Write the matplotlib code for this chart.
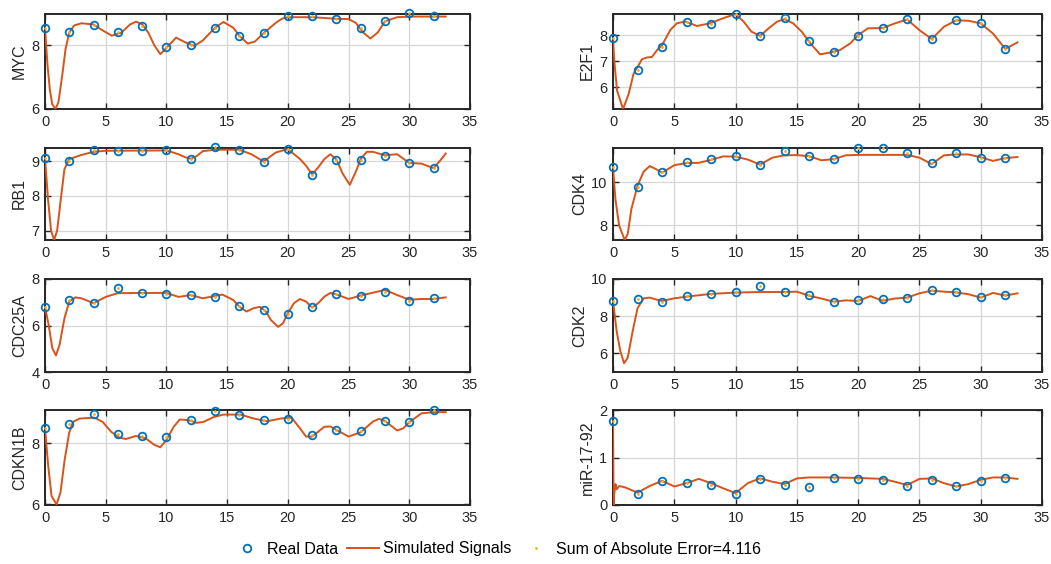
import numpy as np
import matplotlib
matplotlib.use("Agg")
import matplotlib.pyplot as plt
from matplotlib.lines import Line2D

plt.rcParams['font.family'] = ['Liberation Sans', 'DejaVu Sans']

# sampling times of the measurements
t_data = [0, 2, 4, 6, 8, 10, 12, 14, 16, 18, 20, 22, 24, 26, 28, 30, 32]

# real data
myc_data = [8.55, 8.40, 8.63, 8.40, 8.59, 7.94, 8.00, 8.53, 8.28, 8.38, 8.93, 8.91, 8.82, 8.55, 8.77, 9.01, 8.93]
e2f1_data = [7.88, 6.65, 7.55, 8.49, 8.43, 8.81, 7.96, 8.65, 7.76, 7.34, 7.97, 8.27, 8.61, 7.85, 8.59, 8.46, 7.47]
rb1_data = [9.09, 9.01, 9.31, 9.28, 9.28, 9.33, 9.06, 9.40, 9.31, 8.98, 9.35, 8.59, 9.02, 9.04, 9.15, 8.96, 8.81]
cdk4_data = [10.70, 9.80, 10.47, 10.94, 11.08, 11.24, 10.83, 11.44, 11.23, 11.11, 11.61, 11.59, 11.38, 10.88, 11.36, 11.15, 11.15]
cdc25a_data = [6.79, 7.11, 6.96, 7.61, 7.40, 7.37, 7.31, 7.23, 6.83, 6.66, 6.51, 6.79, 7.34, 7.29, 7.46, 7.07, 7.20]
cdk2_data = [8.83, 8.93, 8.79, 9.06, 9.22, 9.31, 9.61, 9.32, 9.13, 8.79, 8.88, 8.90, 8.99, 9.41, 9.29, 9.04, 9.15]
cdkn1b_data = [8.49, 8.63, 8.96, 8.31, 8.24, 8.19, 8.75, 9.07, 8.93, 8.77, 8.80, 8.27, 8.42, 8.40, 8.74, 8.70, 9.08]
mir_data = [1.77, 0.24, 0.50, 0.46, 0.43, 0.24, 0.55, 0.43, 0.38, 0.57, 0.55, 0.53, 0.41, 0.53, 0.40, 0.51, 0.57]

# simulated signals
myc_t = [0, 0.2, 0.4, 0.6, 0.85, 1.1, 1.4, 1.7, 2, 2.4, 3, 4, 4.6, 5.5, 6.3, 7, 7.5, 8, 8.5, 9, 9.5, 10,
         10.8, 11.5, 12.3, 13, 13.5, 14, 14.7, 15.5, 16, 16.7, 17.3, 18, 19, 19.5, 20, 22, 24, 25, 25.6,
         26.2, 26.8, 27.4, 28, 29, 30, 33]
myc_sim = [8.55, 7.4, 6.6, 6.15, 6.0, 6.2, 7.0, 7.9, 8.4, 8.62, 8.69, 8.65, 8.5, 8.3, 8.4, 8.65, 8.74,
           8.66, 8.4, 8.0, 7.72, 7.92, 8.24, 8.1, 7.98, 8.15, 8.35, 8.55, 8.73, 8.55, 8.3, 8.05, 8.12,
           8.38, 8.7, 8.83, 8.88, 8.88, 8.83, 8.82, 8.7, 8.4, 8.21, 8.4, 8.75, 8.88, 8.9, 8.9]

e2f1_t = [0, 0.1, 0.33, 0.82, 1.28, 1.68, 2, 2.36, 2.77, 3.18, 3.59, 4, 4.67, 5.2, 5.9, 6.85, 7.9, 9, 10,
          10.65, 11.3, 12, 12.7, 13.4, 14, 14.7, 15.4, 16.1, 16.9, 17.7, 18.5, 19.35, 20, 20.8, 22, 23,
          24, 25, 26, 27, 28, 29, 30, 31, 32, 33]
e2f1_sim = [7.88, 7.03, 5.87, 5.16, 5.74, 6.52, 6.77, 7.07, 7.14, 7.16, 7.42, 7.61, 8.19, 8.45, 8.52,
            8.35, 8.45, 8.65, 8.81, 8.52, 8.13, 7.97, 8.26, 8.52, 8.61, 8.45, 8.13, 7.68, 7.26, 7.33,
            7.42, 7.68, 8.0, 8.26, 8.27, 8.45, 8.6, 8.19, 7.85, 8.32, 8.57, 8.55, 8.45, 8.06, 7.47, 7.72]

rb1_t = [0, 0.25, 0.5, 0.75, 1.0, 1.3, 1.6, 2, 3, 4, 5, 10, 11, 11.5, 12, 12.5, 13, 14, 16, 17, 18, 19,
         20, 21, 21.5, 22, 22.5, 23, 23.5, 24, 24.5, 25.1, 25.6, 26, 26.5, 27, 28, 29, 30, 31, 32, 32.5, 33]
rb1_sim = [9.09, 7.9, 7.0, 6.73, 7.0, 7.9, 8.77, 9.06, 9.18, 9.27, 9.3, 9.31, 9.2, 9.12, 9.07, 9.15, 9.29,
           9.33, 9.33, 9.2, 8.99, 9.25, 9.35, 9.06, 8.87, 8.62, 8.82, 9.06, 9.2, 9.05, 8.65, 8.32, 8.7,
           9.06, 9.27, 9.27, 9.17, 9.2, 8.95, 8.93, 8.8, 9.0, 9.22]

cdk4_t = [0, 0.2, 0.5, 0.95, 1.2, 1.5, 2, 2.5, 3, 3.5, 4, 5, 6, 7, 8, 9, 10, 11, 12, 13, 14, 15, 16, 17,
          18, 19, 20, 24, 25, 26, 27, 28, 29, 30, 31, 32, 33]
cdk4_sim = [10.7, 9.2, 8.0, 7.32, 7.6, 8.76, 9.85, 10.5, 10.76, 10.62, 10.45, 10.8, 10.9, 10.91, 11.05,
            11.21, 11.2, 11.06, 10.83, 11.15, 11.26, 11.27, 11.22, 11.03, 11.08, 11.26, 11.28, 11.28,
            11.15, 10.85, 11.26, 11.3, 11.3, 11.17, 11.0, 11.13, 11.18]

cdc25a_t = [0, 0.3, 0.6, 0.9, 1.2, 1.6, 2, 2.5, 3, 4, 5, 6, 8, 10, 11, 12, 13, 14.6, 15.5, 16, 16.6, 17.2,
            17.7, 18.2, 18.6, 19.2, 19.6, 20, 20.5, 21, 21.5, 22, 22.5, 23, 23.5, 24, 25, 26, 27, 28, 29,
            30, 31, 32, 33]
cdc25a_sim = [6.79, 6.03, 5.03, 4.71, 5.17, 6.31, 7.03, 7.21, 7.17, 6.96, 7.23, 7.39, 7.4, 7.4, 7.23,
              7.31, 7.17, 7.33, 7.1, 6.81, 6.6, 6.75, 6.8, 6.6, 6.24, 5.94, 6.1, 6.53, 6.96, 7.14, 7.03,
              6.77, 6.96, 7.24, 7.4, 7.34, 7.14, 7.29, 7.41, 7.53, 7.31, 7.11, 7.14, 7.14, 7.21]

cdk2_t = [0, 0.3, 0.6, 0.9, 1.2, 1.6, 2, 2.5, 3, 3.5, 4, 5, 6, 8, 10, 12, 14, 15, 16, 17, 18, 19, 20, 21,
          22, 23, 24, 25, 26, 27, 28, 29, 30, 31, 32, 33]
cdk2_sim = [8.83, 7.18, 6.12, 5.47, 5.77, 7.18, 8.43, 8.96, 9.0, 8.9, 8.82, 8.96, 9.05, 9.2, 9.27, 9.3,
            9.3, 9.32, 9.1, 8.95, 8.78, 8.85, 8.82, 9.08, 8.83, 8.95, 9.0, 9.23, 9.37, 9.32, 9.28, 9.18,
            9.0, 9.25, 9.11, 9.23]

cdkn1b_t = [0, 0.27, 0.54, 0.95, 1.27, 1.62, 1.98, 2.3, 2.85, 4.07, 4.75, 5.44, 6.1, 6.65, 7.5, 8.3, 9.0,
            9.5, 10, 10.6, 11.1, 11.8, 12.5, 13.05, 13.9, 14.7, 16.1, 17.2, 18.3, 19.4, 20.3, 21, 21.5,
            22, 22.5, 23, 23.5, 24, 25, 26, 27, 27.5, 28, 29, 29.5, 30, 31, 32, 33]
cdkn1b_sim = [8.49, 7.24, 6.27, 6.0, 6.38, 7.46, 8.32, 8.7, 8.81, 8.84, 8.7, 8.38, 8.19, 8.14, 8.24, 8.16,
              7.95, 7.87, 8.11, 8.54, 8.78, 8.76, 8.67, 8.7, 8.86, 8.94, 8.94, 8.81, 8.72, 8.81, 8.84,
              8.49, 8.22, 8.22, 8.38, 8.54, 8.55, 8.44, 8.22, 8.36, 8.71, 8.8, 8.73, 8.42, 8.49, 8.69,
              8.98, 9.02, 9.02]

mir_t = [0, 0.05, 0.1, 0.2, 0.3, 0.5, 1, 2, 3, 4, 5, 6, 7, 8, 9, 10, 11, 12, 13, 14, 15, 16, 18, 20, 22,
         23, 24, 25, 26, 27, 28, 29, 30, 31, 32, 33]
mir_sim = [1.77, 0.0, 0.23, 0.44, 0.33, 0.4, 0.37, 0.26, 0.4, 0.51, 0.39, 0.46, 0.55, 0.46, 0.35, 0.25,
           0.46, 0.56, 0.49, 0.44, 0.56, 0.58, 0.58, 0.57, 0.55, 0.49, 0.42, 0.55, 0.56, 0.46, 0.39,
           0.44, 0.53, 0.58, 0.58, 0.55]

sae_text = "Sum of Absolute Error=4.116"

# name, data, sim t, sim values, ylim, yticks  (order: row by row, left then right)
panels = [
    ("MYC", myc_data, myc_t, myc_sim, (6, 8.98), [6, 8]),
    ("E2F1", e2f1_data, e2f1_t, e2f1_sim, (5.16, 8.81), [6, 7, 8]),
    ("RB1", rb1_data, rb1_t, rb1_sim, (6.73, 9.38), [7, 8, 9]),
    ("CDK4", cdk4_data, cdk4_t, cdk4_sim, (7.32, 11.6), [8, 10]),
    ("CDC25A", cdc25a_data, cdc25a_t, cdc25a_sim, (4, 8), [4, 6, 8]),
    ("CDK2", cdk2_data, cdk2_t, cdk2_sim, (5.0, 10), [6, 8, 10]),
    ("CDKN1B", cdkn1b_data, cdkn1b_t, cdkn1b_sim, (5.98, 9.09), [6, 8]),
    ("miR-17-92", mir_data, mir_t, mir_sim, (0, 2), [0, 1, 2]),
]

blue = "#0072BD"
orange = "#D95319"
yellow = "#EDB120"

W, H = 1051, 564
fig = plt.figure(figsize=(W / 100, H / 100), dpi=100)

col_x = [(45, 470), (613, 1042)]
row_y = [(14, 109), (148, 240), (279, 372), (410, 505)]

for i, (name, yd, ts, ys, ylim, yt) in enumerate(panels):
    r, c = divmod(i, 2)
    x0, x1 = col_x[c]
    y0, y1 = row_y[r]
    ax = fig.add_axes([x0 / W, 1 - y1 / H, (x1 - x0) / W, (y1 - y0) / H])
    ax.plot(ts, ys, color=orange, lw=1.4, zorder=3, solid_joinstyle='round')
    ax.plot(t_data, yd, 'o', mfc='none', mec=blue, mew=1.3, ms=5.5, zorder=4, clip_on=False)
    ax.plot(t_data, yd, '.', color=yellow, ms=2, zorder=5, clip_on=False)
    ax.set_xlim(0, 35)
    ax.set_ylim(*ylim)
    ax.set_xticks([0, 5, 10, 15, 20, 25, 30, 35])
    ax.set_yticks(yt)
    ax.grid(True, color="#d6d6d6", lw=0.9)
    ax.set_axisbelow(True)
    ax.tick_params(direction='in', top=True, right=True, length=4, width=1,
                   labelsize=10.5, colors='#262626', pad=4)
    for s in ax.spines.values():
        s.set_linewidth(1.4)
        s.set_color('#262626')
    ax.set_ylabel(name, fontsize=11.5, color='#262626', labelpad=3)

handles = [
    Line2D([], [], ls='none', marker='o', mfc='none', mec=blue, mew=1.3, ms=5.5),
    Line2D([], [], color=orange, lw=1.4),
    Line2D([], [], ls='none', marker='.', color=yellow, ms=2),
]
fig.legend(handles, ["Real Data", "Simulated Signals", sae_text], loc='center',
           bbox_to_anchor=(0.472, 1 - 549 / H), ncol=3, frameon=False, fontsize=11.5,
           handlelength=2.0, columnspacing=0.5, handletextpad=0.3)

fig.savefig("out.png", dpi=100)
